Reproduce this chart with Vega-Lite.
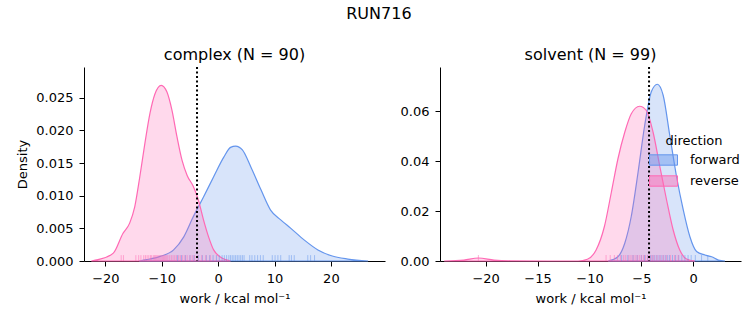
{
  "$schema": "https://vega.github.io/schema/vega-lite/v6.json",
  "background": "white",
  "padding": {"left": 16, "top": 6, "right": 5, "bottom": 5},
  "title": {"text": "RUN716", "anchor": "middle", "fontSize": 16, "fontWeight": "normal", "color": "black", "font": "DejaVu Sans", "offset": 25},
  "config": {
    "font": "DejaVu Sans",
    "view": {"stroke": null},
    "axis": {"grid": false, "domainColor": "black", "tickColor": "black", "labelColor": "black", "titleColor": "black", "labelFontSize": 13, "titleFontSize": 13, "titleFontWeight": "normal", "tickSize": 5, "labelPadding": 5, "domainWidth": 1, "tickWidth": 1, "labelFlush": false, "labelOverlap": false, "labelFont": "DejaVu Sans", "titleFont": "DejaVu Sans", "tickCount": 12},
    "axisY": {"titlePadding": 6, "labelPadding": 6},
    "axisX": {"titlePadding": 7, "labelPadding": 6},
    "legend": {"titleFontSize": 13, "labelFontSize": 13, "titleFontWeight": "normal", "titleFont": "DejaVu Sans", "labelFont": "DejaVu Sans", "titleColor": "black", "labelColor": "black"},
    "title": {"fontSize": 16, "fontWeight": "normal", "color": "black", "font": "DejaVu Sans"},
    "concat": {"spacing": 15}
  },
  "datasets": {
    "complex_kde": [
      {"work": -14.0, "density": 0, "direction": "forward"},
      {"work": -12.7, "density": 0.0002, "direction": "forward"},
      {"work": -10.3, "density": 0.0007, "direction": "forward"},
      {"work": -7.9, "density": 0.0017, "direction": "forward"},
      {"work": -6.1, "density": 0.0037, "direction": "forward"},
      {"work": -4.4, "density": 0.0068, "direction": "forward"},
      {"work": -2.6, "density": 0.0098, "direction": "forward"},
      {"work": -0.8, "density": 0.0129, "direction": "forward"},
      {"work": 1.0, "density": 0.0159, "direction": "forward"},
      {"work": 2.2, "density": 0.0174, "direction": "forward"},
      {"work": 3.1, "density": 0.0176, "direction": "forward"},
      {"work": 4.3, "density": 0.017, "direction": "forward"},
      {"work": 5.8, "density": 0.0144, "direction": "forward"},
      {"work": 7.6, "density": 0.0109, "direction": "forward"},
      {"work": 9.3, "density": 0.0078, "direction": "forward"},
      {"work": 11.1, "density": 0.0063, "direction": "forward"},
      {"work": 12.9, "density": 0.005, "direction": "forward"},
      {"work": 15.3, "density": 0.0032, "direction": "forward"},
      {"work": 17.7, "density": 0.0017, "direction": "forward"},
      {"work": 20.1, "density": 0.0008, "direction": "forward"},
      {"work": 23.0, "density": 0.0003, "direction": "forward"},
      {"work": 26.6, "density": 0, "direction": "forward"},
      {"work": -22.5, "density": 0, "direction": "reverse"},
      {"work": -21.3, "density": 0.0002, "direction": "reverse"},
      {"work": -18.6, "density": 0.0012, "direction": "reverse"},
      {"work": -16.9, "density": 0.0042, "direction": "reverse"},
      {"work": -15.7, "density": 0.0058, "direction": "reverse"},
      {"work": -14.8, "density": 0.0083, "direction": "reverse"},
      {"work": -13.9, "density": 0.0129, "direction": "reverse"},
      {"work": -13.0, "density": 0.018, "direction": "reverse"},
      {"work": -12.1, "density": 0.0226, "direction": "reverse"},
      {"work": -11.2, "density": 0.0256, "direction": "reverse"},
      {"work": -10.1, "density": 0.0269, "direction": "reverse"},
      {"work": -9.1, "density": 0.0259, "direction": "reverse"},
      {"work": -8.2, "density": 0.0231, "direction": "reverse"},
      {"work": -7.3, "density": 0.019, "direction": "reverse"},
      {"work": -6.4, "density": 0.0154, "direction": "reverse"},
      {"work": -5.5, "density": 0.0131, "direction": "reverse"},
      {"work": -4.4, "density": 0.0114, "direction": "reverse"},
      {"work": -3.5, "density": 0.0093, "direction": "reverse"},
      {"work": -2.6, "density": 0.0063, "direction": "reverse"},
      {"work": -1.7, "density": 0.0037, "direction": "reverse"},
      {"work": -0.8, "density": 0.0017, "direction": "reverse"},
      {"work": 0.4, "density": 0.0006, "direction": "reverse"},
      {"work": 2.2, "density": 0, "direction": "reverse"}
    ],
    "complex_rug": [
      {"work": -7.2, "direction": "forward"}, {"work": -6.5, "direction": "forward"}, {"work": -5.8, "direction": "forward"}, {"work": -5.0, "direction": "forward"}, {"work": -4.3, "direction": "forward"}, {"work": -3.5, "direction": "forward"}, {"work": -2.8, "direction": "forward"}, {"work": -2.1, "direction": "forward"}, {"work": -1.5, "direction": "forward"}, {"work": -0.9, "direction": "forward"}, {"work": -0.3, "direction": "forward"}, {"work": 0.2, "direction": "forward"}, {"work": 0.7, "direction": "forward"}, {"work": 1.1, "direction": "forward"}, {"work": 1.5, "direction": "forward"}, {"work": 1.9, "direction": "forward"}, {"work": 2.2, "direction": "forward"}, {"work": 2.5, "direction": "forward"}, {"work": 2.8, "direction": "forward"}, {"work": 3.1, "direction": "forward"}, {"work": 3.4, "direction": "forward"}, {"work": 3.7, "direction": "forward"}, {"work": 4.0, "direction": "forward"}, {"work": 4.3, "direction": "forward"}, {"work": 4.6, "direction": "forward"}, {"work": 5.6, "direction": "forward"}, {"work": 6.0, "direction": "forward"}, {"work": 6.5, "direction": "forward"}, {"work": 7.0, "direction": "forward"}, {"work": 7.5, "direction": "forward"}, {"work": 8.0, "direction": "forward"}, {"work": 9.6, "direction": "forward"}, {"work": 10.1, "direction": "forward"}, {"work": 10.6, "direction": "forward"}, {"work": 11.1, "direction": "forward"}, {"work": 12.6, "direction": "forward"}, {"work": 13.0, "direction": "forward"}, {"work": 13.5, "direction": "forward"}, {"work": 15.9, "direction": "forward"}, {"work": 16.4, "direction": "forward"}, {"work": 17.1, "direction": "forward"},
      {"work": -17.2, "direction": "reverse"}, {"work": -16.8, "direction": "reverse"}, {"work": -14.6, "direction": "reverse"}, {"work": -14.1, "direction": "reverse"}, {"work": -13.7, "direction": "reverse"}, {"work": -13.2, "direction": "reverse"}, {"work": -12.9, "direction": "reverse"}, {"work": -12.6, "direction": "reverse"}, {"work": -12.3, "direction": "reverse"}, {"work": -12.0, "direction": "reverse"}, {"work": -11.8, "direction": "reverse"}, {"work": -11.5, "direction": "reverse"}, {"work": -11.3, "direction": "reverse"}, {"work": -11.1, "direction": "reverse"}, {"work": -10.9, "direction": "reverse"}, {"work": -10.7, "direction": "reverse"}, {"work": -10.5, "direction": "reverse"}, {"work": -10.3, "direction": "reverse"}, {"work": -10.1, "direction": "reverse"}, {"work": -9.9, "direction": "reverse"}, {"work": -9.7, "direction": "reverse"}, {"work": -9.5, "direction": "reverse"}, {"work": -9.3, "direction": "reverse"}, {"work": -9.1, "direction": "reverse"}, {"work": -8.9, "direction": "reverse"}, {"work": -8.6, "direction": "reverse"}, {"work": -8.3, "direction": "reverse"}, {"work": -8.0, "direction": "reverse"}, {"work": -7.7, "direction": "reverse"}, {"work": -7.4, "direction": "reverse"}, {"work": -7.0, "direction": "reverse"}, {"work": -6.7, "direction": "reverse"}, {"work": -6.3, "direction": "reverse"}, {"work": -5.9, "direction": "reverse"}, {"work": -5.5, "direction": "reverse"}, {"work": -5.0, "direction": "reverse"}, {"work": -4.6, "direction": "reverse"}, {"work": -4.2, "direction": "reverse"}, {"work": -3.6, "direction": "reverse"}, {"work": -2.9, "direction": "reverse"}, {"work": -2.2, "direction": "reverse"}, {"work": -1.4, "direction": "reverse"}
    ],
    "complex_mark": [{"work": -3.75}],
    "solvent_kde": [
      {"work": -8.2, "density": 0, "direction": "forward"},
      {"work": -7.26, "density": 0.0017, "direction": "forward"},
      {"work": -6.6, "density": 0.0071, "direction": "forward"},
      {"work": -5.97, "density": 0.0179, "direction": "forward"},
      {"work": -5.32, "density": 0.0354, "direction": "forward"},
      {"work": -4.68, "density": 0.0542, "direction": "forward"},
      {"work": -4.04, "density": 0.0677, "direction": "forward"},
      {"work": -3.46, "density": 0.0707, "direction": "forward"},
      {"work": -2.9, "density": 0.0663, "direction": "forward"},
      {"work": -2.26, "density": 0.0502, "direction": "forward"},
      {"work": -1.62, "density": 0.034, "direction": "forward"},
      {"work": -0.97, "density": 0.0206, "direction": "forward"},
      {"work": -0.33, "density": 0.0098, "direction": "forward"},
      {"work": 0.32, "density": 0.0038, "direction": "forward"},
      {"work": 1.12, "density": 0.0024, "direction": "forward"},
      {"work": 1.77, "density": 0.0017, "direction": "forward"},
      {"work": 2.42, "density": 0.0004, "direction": "forward"},
      {"work": 3.06, "density": 0, "direction": "forward"},
      {"work": -24.0, "density": 0, "direction": "reverse"},
      {"work": -22.1, "density": 0.0004, "direction": "reverse"},
      {"work": -20.7, "density": 0.0012, "direction": "reverse"},
      {"work": -19.2, "density": 0.0004, "direction": "reverse"},
      {"work": -17.6, "density": 0.0001, "direction": "reverse"},
      {"work": -14.0, "density": 0, "direction": "reverse"},
      {"work": -11.1, "density": 0, "direction": "reverse"},
      {"work": -10.2, "density": 0.0007, "direction": "reverse"},
      {"work": -9.36, "density": 0.0044, "direction": "reverse"},
      {"work": -8.56, "density": 0.0138, "direction": "reverse"},
      {"work": -7.9, "density": 0.0273, "direction": "reverse"},
      {"work": -7.26, "density": 0.0408, "direction": "reverse"},
      {"work": -6.6, "density": 0.0515, "direction": "reverse"},
      {"work": -5.97, "density": 0.0589, "direction": "reverse"},
      {"work": -5.17, "density": 0.0619, "direction": "reverse"},
      {"work": -4.52, "density": 0.0602, "direction": "reverse"},
      {"work": -3.87, "density": 0.0515, "direction": "reverse"},
      {"work": -3.23, "density": 0.038, "direction": "reverse"},
      {"work": -2.58, "density": 0.0246, "direction": "reverse"},
      {"work": -1.94, "density": 0.0125, "direction": "reverse"},
      {"work": -1.3, "density": 0.0044, "direction": "reverse"},
      {"work": -0.65, "density": 0.0008, "direction": "reverse"},
      {"work": 0.16, "density": 0, "direction": "reverse"}
    ],
    "solvent_rug": [
      {"work": -6.9, "direction": "forward"}, {"work": -6.3, "direction": "forward"}, {"work": -5.8, "direction": "forward"}, {"work": -5.4, "direction": "forward"}, {"work": -5.0, "direction": "forward"}, {"work": -4.7, "direction": "forward"}, {"work": -4.4, "direction": "forward"}, {"work": -4.1, "direction": "forward"}, {"work": -3.9, "direction": "forward"}, {"work": -3.7, "direction": "forward"}, {"work": -3.5, "direction": "forward"}, {"work": -3.3, "direction": "forward"}, {"work": -3.1, "direction": "forward"}, {"work": -2.9, "direction": "forward"}, {"work": -2.7, "direction": "forward"}, {"work": -2.5, "direction": "forward"}, {"work": -2.3, "direction": "forward"}, {"work": -2.0, "direction": "forward"}, {"work": -1.7, "direction": "forward"}, {"work": -1.4, "direction": "forward"}, {"work": -1.1, "direction": "forward"}, {"work": -0.8, "direction": "forward"}, {"work": -0.5, "direction": "forward"}, {"work": -0.2, "direction": "forward"}, {"work": 0.2, "direction": "forward"}, {"work": 0.8, "direction": "forward"}, {"work": 1.4, "direction": "forward"},
      {"work": -20.7, "direction": "reverse"}, {"work": -8.4, "direction": "reverse"}, {"work": -8.0, "direction": "reverse"}, {"work": -7.6, "direction": "reverse"}, {"work": -7.3, "direction": "reverse"}, {"work": -7.0, "direction": "reverse"}, {"work": -6.7, "direction": "reverse"}, {"work": -6.5, "direction": "reverse"}, {"work": -6.2, "direction": "reverse"}, {"work": -6.0, "direction": "reverse"}, {"work": -5.8, "direction": "reverse"}, {"work": -5.6, "direction": "reverse"}, {"work": -5.4, "direction": "reverse"}, {"work": -5.2, "direction": "reverse"}, {"work": -5.0, "direction": "reverse"}, {"work": -4.8, "direction": "reverse"}, {"work": -4.6, "direction": "reverse"}, {"work": -4.4, "direction": "reverse"}, {"work": -4.2, "direction": "reverse"}, {"work": -4.0, "direction": "reverse"}, {"work": -3.8, "direction": "reverse"}, {"work": -3.5, "direction": "reverse"}, {"work": -3.2, "direction": "reverse"}, {"work": -2.9, "direction": "reverse"}, {"work": -2.6, "direction": "reverse"}, {"work": -2.2, "direction": "reverse"}, {"work": -1.8, "direction": "reverse"}, {"work": -1.45, "direction": "reverse"}
    ],
    "solvent_mark": [{"work": -4.26}]
  },
  "resolve": {
    "scale": {"x": "independent", "y": "independent", "fill": "independent", "stroke": "independent"},
    "legend": {"fill": "independent", "stroke": "independent"}
  },
  "hconcat": [
    {
      "width": 301,
      "height": 194,
      "title": {"text": "complex (N = 90)", "frame": "group", "anchor": "middle", "offset": 3},
      "layer": [
        {
          "data": {"name": "complex_kde"},
          "mark": {"type": "area", "fillOpacity": 0.25, "strokeWidth": 1.2, "interpolate": "monotone"},
          "encoding": {
            "x": {"field": "work", "type": "quantitative", "scale": {"domain": [-23.8, 29.6], "nice": false, "zero": false}, "axis": {"values": [-20, -10, 0, 10, 20], "title": "work / kcal mol⁻¹"}},
            "y": {"field": "density", "type": "quantitative", "stack": null, "scale": {"domain": [0, 0.0297], "nice": false}, "axis": {"values": [0, 0.005, 0.01, 0.015, 0.02, 0.025], "tickCount": 12, "format": ".3f", "title": "Density"}},
            "fill": {"field": "direction", "type": "nominal", "scale": {"domain": ["forward", "reverse"], "range": ["#6495ED", "#FF69B4"]}, "legend": null},
            "stroke": {"field": "direction", "type": "nominal", "scale": {"domain": ["forward", "reverse"], "range": ["#6495ED", "#FF69B4"]}, "legend": null}
          }
        },
        {
          "data": {"name": "complex_rug"},
          "mark": {"type": "rule", "strokeWidth": 1, "opacity": 0.5},
          "encoding": {
            "x": {"field": "work", "type": "quantitative"},
            "y": {"datum": 0},
            "y2": {"datum": 0.0009},
            "stroke": {"field": "direction", "type": "nominal", "legend": null}
          }
        },
        {
          "data": {"name": "complex_mark"},
          "mark": {"type": "rule", "color": "black", "strokeWidth": 2, "strokeDash": [2, 2.5]},
          "encoding": {"x": {"field": "work", "type": "quantitative"}}
        }
      ]
    },
    {
      "width": 301,
      "height": 194,
      "title": {"text": "solvent (N = 99)", "frame": "group", "anchor": "middle", "offset": 3},
      "layer": [
        {
          "data": {"name": "solvent_kde"},
          "mark": {"type": "area", "fillOpacity": 0.25, "strokeWidth": 1.2, "interpolate": "monotone"},
          "encoding": {
            "x": {"field": "work", "type": "quantitative", "scale": {"domain": [-24.4, 4.6], "nice": false, "zero": false}, "axis": {"values": [-20, -15, -10, -5, 0], "title": "work / kcal mol⁻¹"}},
            "y": {"field": "density", "type": "quantitative", "stack": null, "scale": {"domain": [0, 0.0776], "nice": false}, "axis": {"values": [0, 0.02, 0.04, 0.06], "tickCount": 12, "format": ".2f", "title": null}},
            "fill": {"field": "direction", "type": "nominal", "scale": {"domain": ["forward", "reverse"], "range": ["#6495ED", "#FF69B4"]},
              "legend": {"title": "direction", "orient": "none", "legendX": 209, "legendY": 68, "padding": 0, "symbolType": "M-1,-0.37H1V0.37H-1Z", "symbolSize": 784, "clipHeight": 14, "rowPadding": 7, "labelOffset": 12, "titleFontSize": 13, "labelFontSize": 13, "titleFontWeight": "normal", "titleAnchor": "middle", "titlePadding": 5, "titleColor": "black", "labelColor": "black", "symbolStrokeWidth": 1, "encode": {"title": {"update": {"fontSize": {"value": 13}}}, "symbols": {"update": {"fillOpacity": {"value": 0.45}}}}}},
            "stroke": {"field": "direction", "type": "nominal", "scale": {"domain": ["forward", "reverse"], "range": ["#6495ED", "#FF69B4"]},
              "legend": {"title": "direction", "orient": "none", "legendX": 209, "legendY": 68, "padding": 0, "symbolType": "M-1,-0.37H1V0.37H-1Z", "symbolSize": 784, "clipHeight": 14, "rowPadding": 7, "labelOffset": 12, "titleFontSize": 13, "labelFontSize": 13, "titleFontWeight": "normal", "titleAnchor": "middle", "titlePadding": 5, "titleColor": "black", "labelColor": "black", "symbolStrokeWidth": 1, "encode": {"title": {"update": {"fontSize": {"value": 13}}}, "symbols": {"update": {"fillOpacity": {"value": 0.45}}}}}}
          }
        },
        {
          "data": {"name": "solvent_rug"},
          "mark": {"type": "rule", "strokeWidth": 1, "opacity": 0.5},
          "encoding": {
            "x": {"field": "work", "type": "quantitative"},
            "y": {"datum": 0},
            "y2": {"datum": 0.0024},
            "stroke": {"field": "direction", "type": "nominal"}
          }
        },
        {
          "data": {"name": "solvent_mark"},
          "mark": {"type": "rule", "color": "black", "strokeWidth": 2, "strokeDash": [2, 2.5]},
          "encoding": {"x": {"field": "work", "type": "quantitative"}}
        }
      ]
    }
  ]
}
